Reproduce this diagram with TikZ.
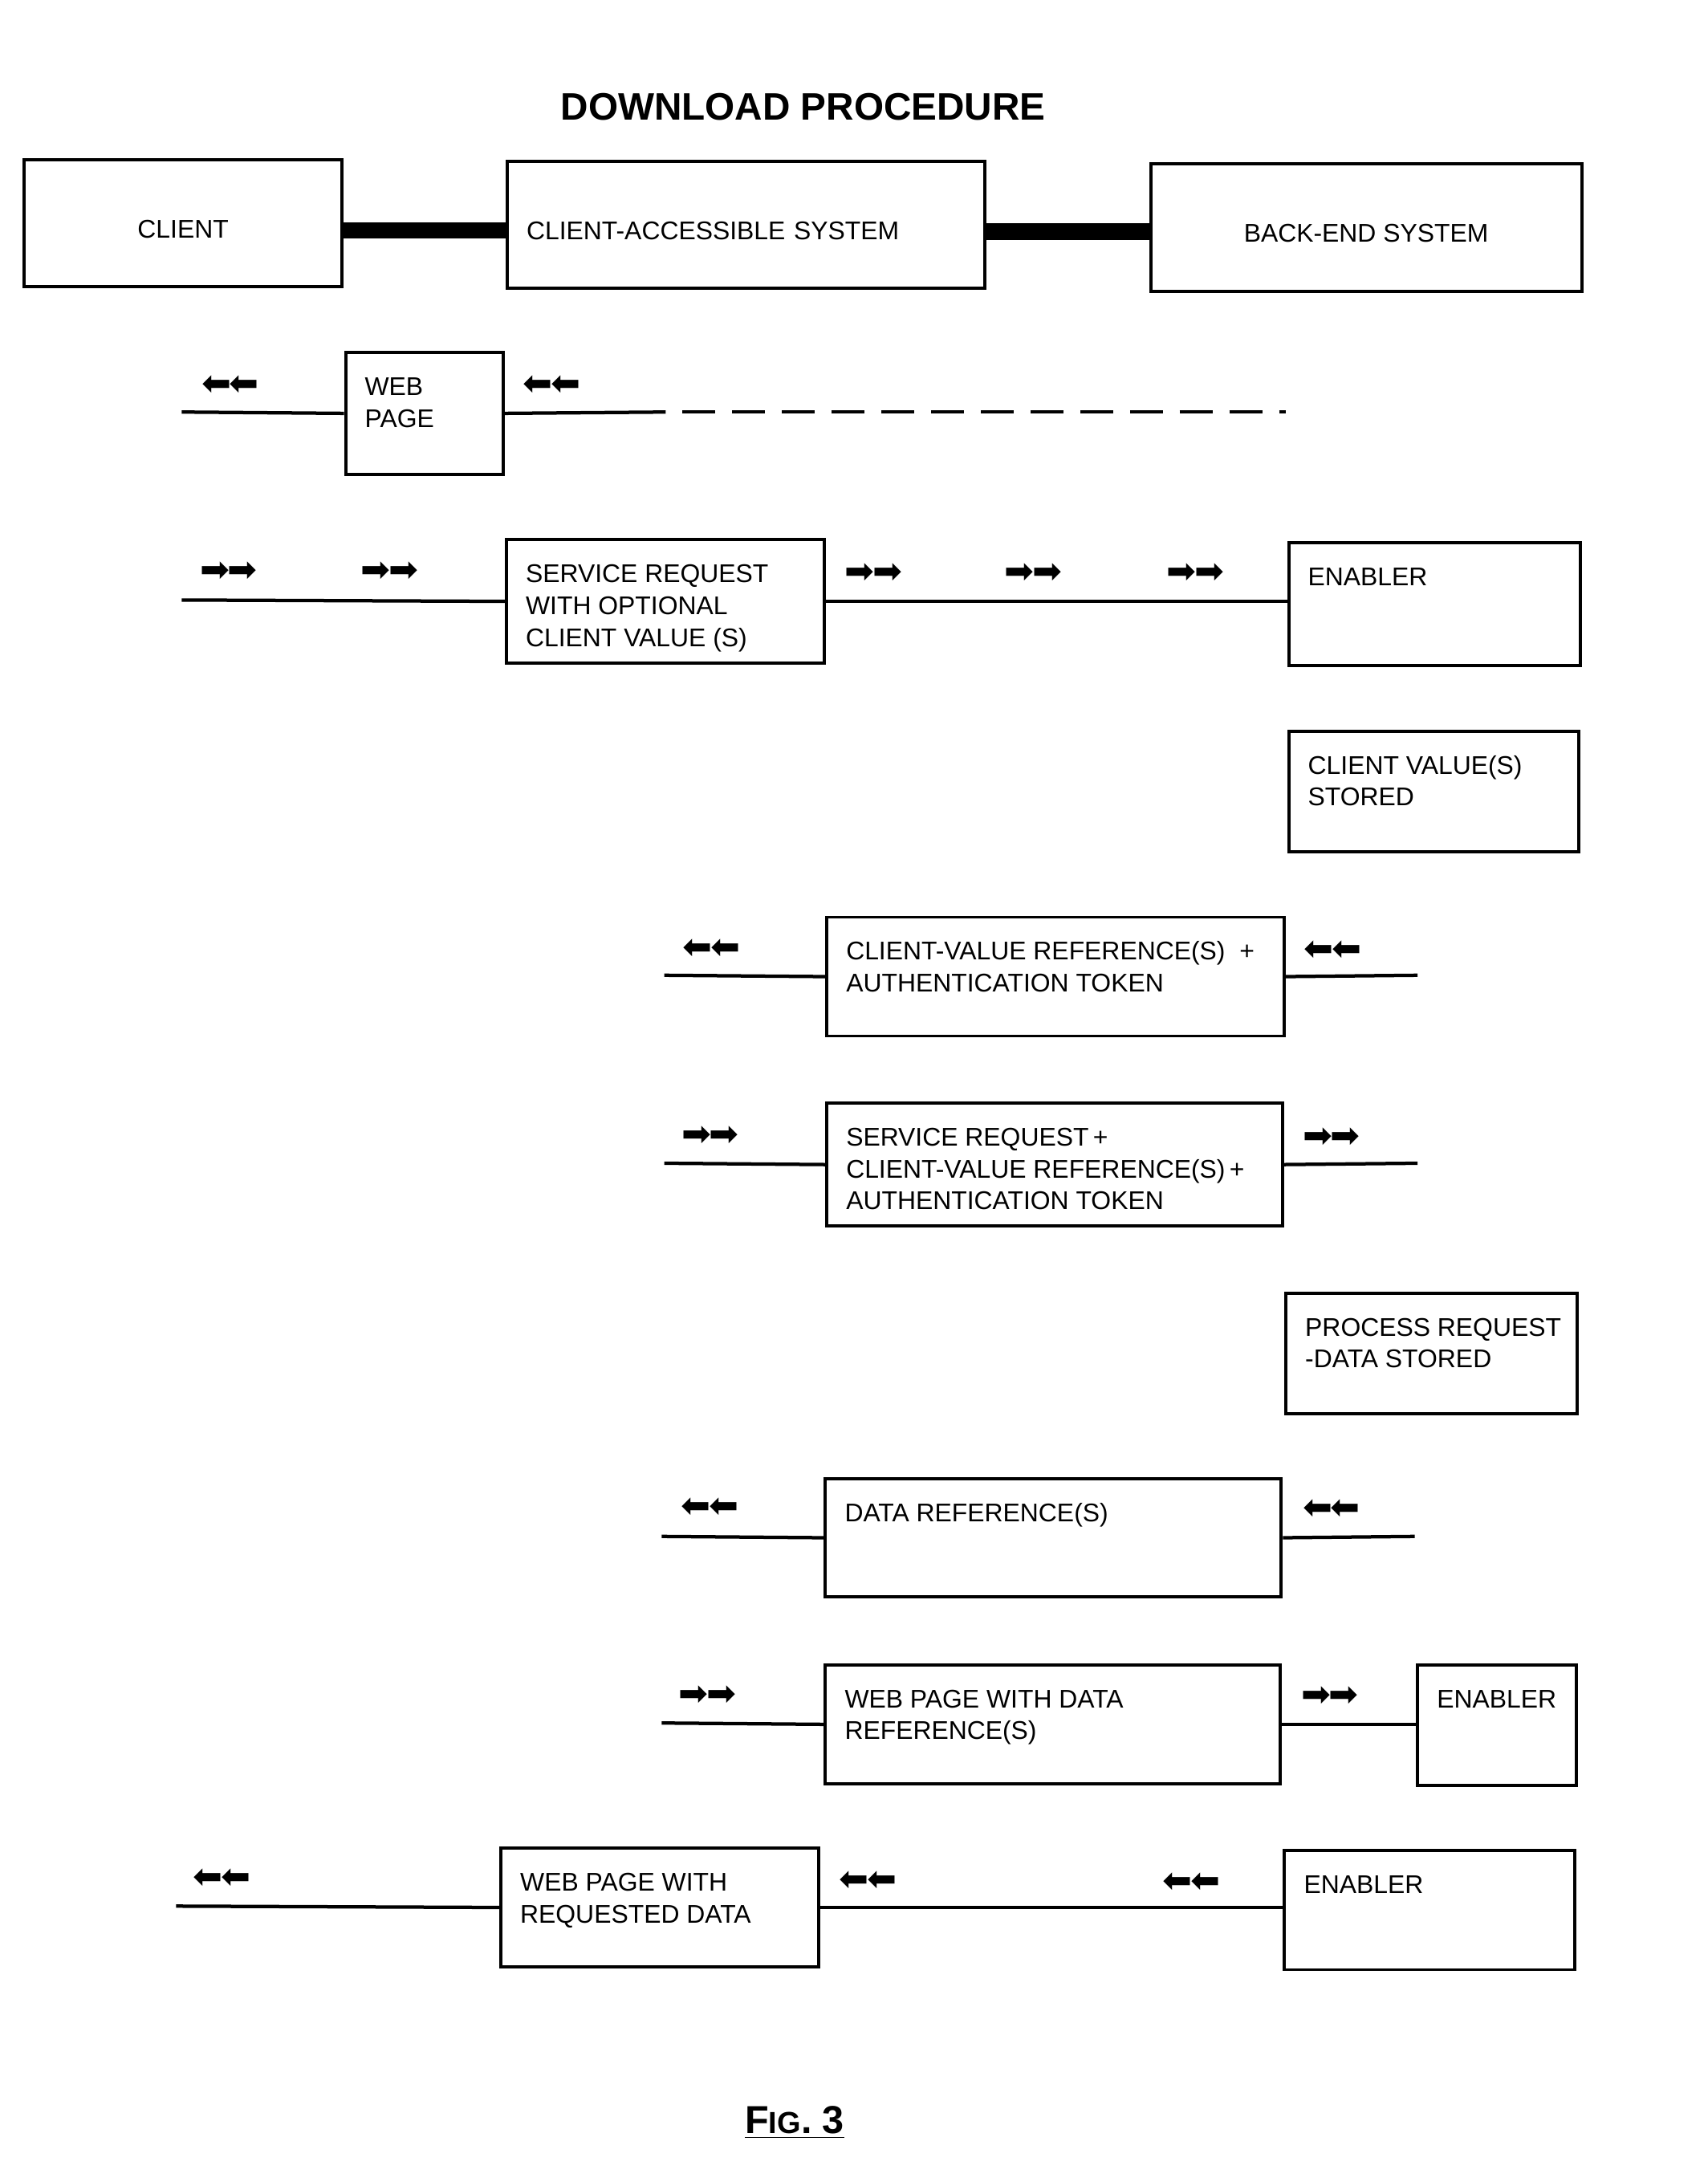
\documentclass[tikz,border=0pt]{standalone}
\usepackage{fontspec}
\usepackage{graphicx}
\setmainfont{Liberation Sans}
\newfontfamily\arrfont{DejaVu Sans}
\usetikzlibrary{calc}
\newdimen\px \px=0.5669pt
\newcommand{\boxtxt}[3]{\parbox[c][#2\px][t]{#1\px}{\raggedright\leftskip=14\px\rule{0pt}{17.6pt}#3}}
\newcommand{\ra}{{\arrfont ➡\kern-0.8pt➡}}
\newcommand{\la}{\reflectbox{\ra}}
\tikzset{
  tbox/.style={draw, line width=1.3pt, anchor=north west, inner sep=0pt},
  hbox/.style={draw, line width=1.3pt, inner sep=0pt, text height=14pt, text depth=2pt},
  conn/.style={line width=1.4pt},
  bar/.style={line width=6.8pt},
  arr/.style={font=\fontsize{14.5}{14.5}\selectfont, inner sep=0pt},
}
\begin{document}
\begin{tikzpicture}[x=0.02cm, y=-0.02cm, font=\fontsize{10.5}{13.04}\selectfont]
\useasboundingbox (0,0) rectangle (1231,1570);

\node[font=\fontsize{15.7}{18}\selectfont\bfseries] (title) at (579,77) {DOWNLOAD PROCEDURE};

% top row
\node[hbox, minimum width=230\px, minimum height=92\px] (client) at (132,161) {CLIENT};
\node[hbox, minimum width=346\px, minimum height=92\px, text width=318\px, align=left] (cas) at (538,162) {CLIENT-ACCESSIBLE SYSTEM};
\node[hbox, minimum width=312\px, minimum height=92\px] (bes) at (985,164) {BACK-END SYSTEM};
\draw[bar] ([yshift=-5\px]client.east) -- ([yshift=-5\px]client.east -| cas.west);
\draw[bar] ([yshift=-5\px]cas.east) -- ([yshift=-5\px]cas.east -| bes.west);

% row 2
\node[tbox] (web) at (248,253) {\boxtxt{114}{88}{WEB\\PAGE}};
\node[arr] (a2l) at (166,278) {\la};
\node[arr] (a2r) at (398,278) {\la};
\coordinate (c2a) at (131,297);
\coordinate (c2b) at (480,297);
\coordinate (c2c) at (927,297);
\draw[conn] (c2a) -- (web.west);
\draw[conn] (web.east) -- (c2b);
\draw[conn, dash pattern=on 24\px off 12\px, dash phase=24\px] (c2b) -- (c2c);

% row 3
\node[tbox] (sr) at (364,388) {\boxtxt{230}{89}{SERVICE REQUEST\\WITH OPTIONAL\\CLIENT VALUE (S)}};
\node[tbox] (en1) at (928,390) {\boxtxt{211}{89}{ENABLER}};
\node[arr] (a3a) at (165,412) {\ra};
\node[arr] (a3b) at (281,412) {\ra};
\node[arr] (a3c) at (630,413) {\ra};
\node[arr] (a3d) at (745,413) {\ra};
\node[arr] (a3e) at (862,413) {\ra};
\coordinate (c3a) at (131,432.5);
\draw[conn] (c3a) -- (sr.west);
\draw[conn] (sr.east) -- (sr.east -| en1.west);

% row 4
\node[tbox] (cvs) at (928,526) {\boxtxt{210}{87}{CLIENT VALUE(S)\\STORED}};

% row 5
\node[tbox] (cvr) at (595,660) {\boxtxt{331}{86}{CLIENT-VALUE REFERENCE(S)~~+\\AUTHENTICATION TOKEN}};
\node[arr] (a5l) at (513,684) {\la};
\node[arr] (a5r) at (961,685) {\la};
\coordinate (c5a) at (479,703);
\coordinate (c5b) at (1022,703);
\draw[conn] (c5a) -- (cvr.west);
\draw[conn] (cvr.east) -- (c5b);

% row 6
\node[tbox] (srp) at (595,794) {\boxtxt{330}{89}{SERVICE REQUEST\,+\\CLIENT-VALUE REFERENCE(S)\,+\\AUTHENTICATION TOKEN}};
\node[arr] (a6l) at (512,819) {\ra};
\node[arr] (a6r) at (960,820) {\ra};
\coordinate (c6a) at (479,838.5);
\coordinate (c6b) at (1022,838.5);
\draw[conn] (c6a) -- (srp.west);
\draw[conn] (srp.east) -- (c6b);

% row 7
\node[tbox] (prd) at (926,931) {\boxtxt{211}{87}{PROCESS REQUEST\\-DATA STORED}};

% row 8
\node[tbox] (dr) at (594,1065) {\boxtxt{330}{85}{DATA REFERENCE(S)}};
\node[arr] (a8l) at (512,1087) {\la};
\node[arr] (a8r) at (960,1088) {\la};
\coordinate (c8a) at (477,1107.5);
\coordinate (c8b) at (1020,1107.5);
\draw[conn] (c8a) -- (dr.west);
\draw[conn] (dr.east) -- (c8b);

% row 9
\node[tbox] (wpd) at (594,1199) {\boxtxt{329}{86}{WEB PAGE WITH DATA\\REFERENCE(S)}};
\node[tbox] (en2) at (1021,1199) {\boxtxt{115}{87}{ENABLER}};
\node[arr] (a9l) at (510,1222) {\ra};
\node[arr] (a9r) at (959,1223) {\ra};
\coordinate (c9a) at (477,1242);
\draw[conn] (c9a) -- (wpd.west);
\draw[conn] (wpd.east) -- (wpd.east -| en2.west);

% row 10
\node[tbox] (wpr) at (360,1331) {\boxtxt{230}{86}{WEB PAGE WITH\\REQUESTED DATA}};
\node[tbox] (en3) at (925,1333) {\boxtxt{210}{86}{ENABLER}};
\node[arr] (a10a) at (160,1354) {\la};
\node[arr] (a10b) at (626,1356) {\la};
\node[arr] (a10c) at (859,1357) {\la};
\coordinate (c10a) at (127,1374);
\draw[conn] (c10a) -- (wpr.west);
\draw[conn] (wpr.east) -- (wpr.east -| en3.west);

% caption
\node (fig) at (573,1530) {\underline{\bfseries\fontsize{16}{16}\selectfont F\fontsize{12.5}{16}\selectfont IG\fontsize{16}{16}\selectfont.\ 3}};
\end{tikzpicture}
\end{document}
